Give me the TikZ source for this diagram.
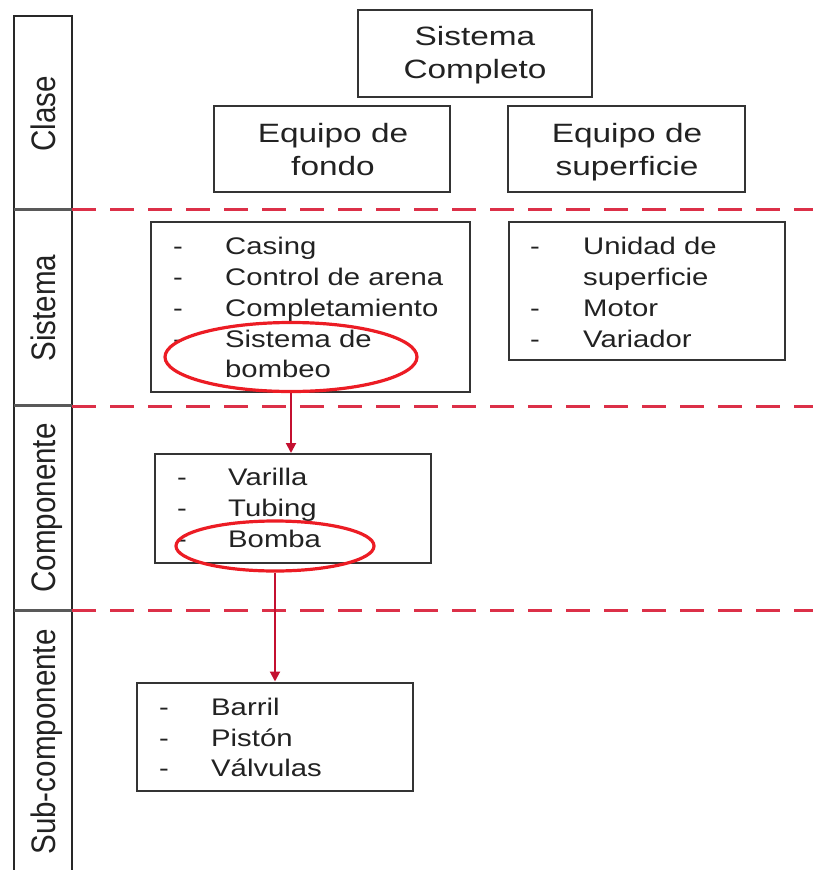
\documentclass[tikz,border=0pt]{standalone}
\usepackage{fontspec}
\setmainfont{Liberation Sans}
\newfontfamily\hfont[FakeStretch=1.26]{Liberation Sans}
\newfontfamily\lfont[FakeStretch=1.22]{Liberation Sans}
\newfontfamily\rfont[FakeStretch=0.87]{Liberation Sans}
\usetikzlibrary{shapes.geometric,arrows.meta}
\definecolor{boxc}{RGB}{52,52,52}
\definecolor{txtc}{RGB}{34,34,34}
\definecolor{dashc}{RGB}{220,48,72}
\definecolor{ellc}{RGB}{236,28,36}
\definecolor{arrc}{RGB}{196,16,48}
\definecolor{stripc}{RGB}{40,40,40}
\begin{document}
\begin{tikzpicture}[x=1pt,y=-1pt,
  boxn/.style={draw=boxc, line width=2pt, inner sep=0pt},
  headtxt/.style={anchor=base, inner sep=0pt, text=txtc, font=\hfont\fontsize{26.5}{34}\selectfont},
  itemtxt/.style={anchor=base west, inner sep=0pt, text=txtc, font=\lfont\fontsize{24}{30}\selectfont},
  lvltxt/.style={rotate=90, anchor=base, inner sep=0pt, text=txtc, font=\rfont\fontsize{34}{40}\selectfont},
  sepline/.style={draw=dashc, line width=3pt, dash pattern=on 24pt off 14pt},
  hilite/.style={ellipse, draw=ellc, line width=3.2pt, inner sep=0pt},
  arr/.style={draw=arrc, line width=2pt, -{Triangle[length=10pt,width=10pt]}}]
\useasboundingbox (0,0) rectangle (813,870);

% left strip
\draw[stripc, line width=2pt] (14,870) -- (14,16) -- (72,16) -- (72,870);
\foreach \yy in {209,405,610}
  \draw[gray!70!black, line width=3pt] (14,\yy) -- (72,\yy);
\node[lvltxt] (lclase) at (55,114) {Clase};
\node[lvltxt] (lsist) at (55,308) {Sistema};
\node[lvltxt] (lcomp) at (55,508) {Componente};
\node[lvltxt] (lsub) at (55,742) {Sub-componente};

% dashed separators
\foreach \yy in {209,406,610}
  \draw[sepline] (72,\yy) -- (813,\yy);

% Clase boxes
\node[boxn, minimum width=234pt, minimum height=87pt] (sc) at (475,53.5) {};
\node[headtxt] (sc1) at (475,45) {Sistema};
\node[headtxt] (sc2) at (475,78) {Completo};

\node[boxn, minimum width=236pt, minimum height=86pt] (ef) at (332,149) {};
\node[headtxt] (ef1) at (333,142) {Equipo de};
\node[headtxt] (ef2) at (333,175) {fondo};

\node[boxn, minimum width=237pt, minimum height=86pt] (es) at (626.5,149) {};
\node[headtxt] (es1) at (627,142) {Equipo de};
\node[headtxt] (es2) at (627,175) {superficie};

% Sistema boxes
\node[boxn, minimum width=319pt, minimum height=170pt] (sl) at (310.5,307) {};
\node[itemtxt] (sld1) at (173,254) {-};
\node[itemtxt] (slt1) at (225,254) {Casing};
\node[itemtxt] (sld2) at (173,285) {-};
\node[itemtxt] (slt2) at (225,285) {Control de arena};
\node[itemtxt] (sld3) at (173,316) {-};
\node[itemtxt] (slt3) at (225,316) {Completamiento};
\node[itemtxt] (sld4) at (173,347) {-};
\node[itemtxt] (slt4) at (225,347) {Sistema de};
\node[itemtxt] (slt5) at (225,377.5) {bombeo};

\node[boxn, minimum width=276pt, minimum height=138pt] (sr) at (647,291) {};
\node[itemtxt] (srd1) at (530,254) {-};
\node[itemtxt] (srt1) at (583,254) {Unidad de};
\node[itemtxt] (srt2) at (583,285) {superficie};
\node[itemtxt] (srd3) at (530,316) {-};
\node[itemtxt] (srt3) at (583,316) {Motor};
\node[itemtxt] (srd4) at (530,347) {-};
\node[itemtxt] (srt4) at (583,347) {Variador};

% Componente box
\node[boxn, minimum width=276pt, minimum height=109pt] (cp) at (293,508.5) {};
\node[itemtxt] (cpd1) at (177,485.5) {-};
\node[itemtxt] (cpt1) at (228,485.5) {Varilla};
\node[itemtxt] (cpd2) at (177,516.3) {-};
\node[itemtxt] (cpt2) at (228,516.3) {Tubing};
\node[itemtxt] (cpd3) at (177,547) {-};
\node[itemtxt] (cpt3) at (228,547) {Bomba};

% Sub-componente box
\node[boxn, minimum width=276pt, minimum height=108pt] (sb) at (275,736.5) {};
\node[itemtxt] (sbd1) at (159,715) {-};
\node[itemtxt] (sbt1) at (211,715) {Barril};
\node[itemtxt] (sbd2) at (159,746) {-};
\node[itemtxt] (sbt2) at (211,746) {Pistón};
\node[itemtxt] (sbd3) at (159,776) {-};
\node[itemtxt] (sbt3) at (211,776) {Válvulas};

% highlights
\node[hilite, minimum width=252pt, minimum height=69pt] (e1) at (291,357) {};
\node[hilite, minimum width=198pt, minimum height=50pt] (e2) at (275,546) {};

% arrows
\draw[arr] (e1.south) -- (e1.south |- cp.north);
\draw[arr] (e2.south) -- (e2.south |- sb.north);
\end{tikzpicture}
\end{document}
